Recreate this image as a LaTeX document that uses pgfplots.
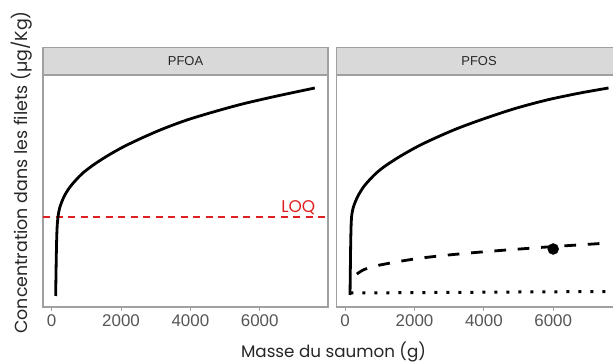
\documentclass[border=0pt]{standalone}
\usepackage{fontspec}
\setmainfont{Poppins}
\newfontfamily\arial{Liberation Sans}
\usepackage{pgfplots}
\pgfplotsset{compat=1.18}
\definecolor{loqred}{RGB}{224,32,32}
\definecolor{tickgray}{RGB}{85,85,85}
\definecolor{bordergray}{RGB}{160,160,160}
\definecolor{stripfill}{RGB}{217,217,217}
\pgfplotsset{
  panel/.style={
    scale only axis, anchor=south west,
    height=232bp, ymin=0, ymax=232, ytick=\empty,
    xmin=-250, xmax=7970, width=285bp,
    xtick={0,2000,4000,6000}, tick align=outside, tick pos=left,
    major tick length=4bp,
    tick style={bordergray, line width=1bp},
    axis line style={bordergray, line width=1.2bp},
    xticklabel style={font=\arial\fontsize{17}{17}\selectfont, text=tickgray},
    /pgf/number format/assume math mode=true,
    /pgf/number format/1000 sep={},
    every axis title/.style={at={(0.5,1)}, anchor=south, fill=stripfill, draw=bordergray,
      line width=1.2bp, minimum width=285bp, minimum height=27bp, inner sep=0pt,
      font=\arial\fontsize{13}{13}\selectfont, text=black!85},
    solidc/.style={black, line width=2.8bp, smooth},
  }
}
\begin{document}
\begin{tikzpicture}
\useasboundingbox (0,0) rectangle (613bp,363bp);
\clip (0,0) rectangle (613bp,363bp);
\begin{axis}[panel, at={(43bp,56bp)}, title={PFOA}]
\addplot[loqred, line width=1.5bp, dash pattern=on 7bp off 5.5bp] coordinates {(-250,90) (7970,90)};
\addplot[solidc] coordinates {
(115,11) (128,40) (140,62) (152,76) (165,84) (190,92) (230,99) (290,105) (380,112)
(528,120) (700,127) (900,134) (1200,142) (1600,151) (2060,160) (2600,169) (3200,178)
(3900,187) (4660,195) (5500,203) (6500,211) (7590,219)};
\node[anchor=base, text=loqred, font=\fontsize{17}{17}\selectfont] at (axis cs:7113,94.7) {LOQ};
\end{axis}
\begin{axis}[panel, at={(336.5bp,56bp)}, title={PFOS}]
\addplot[solidc] coordinates {
(140,12) (150,40) (160,65) (172,82) (190,92) (230,99) (290,105) (384,112) (528,120)
(700,127) (900,134) (1154,141) (1600,151) (2115,161) (2600,169) (3200,178) (3900,187)
(4855,198) (5817,207) (6778,214) (7595,219)};
\addplot[black, line width=2.8bp, smooth, dash pattern=on 11.7bp off 11.7bp] coordinates {
(337,33) (480,36.3) (650,38.8) (900,41.2) (1200,43.3) (1600,45.8) (2115,48.6) (2700,51)
(3400,53.4) (4200,55.8) (5000,57.9) (5817,60) (6700,62) (7595,64)};
\addplot[black, line width=3bp, dash pattern=on 3bp off 9bp] coordinates {
(150,14) (1500,14.3) (3000,14.6) (4500,14.9) (6000,15.2) (7595,15.5)};
\addplot[only marks, mark=*, mark size=5.5bp, black] coordinates {(6000,58)};
\end{axis}
\node[anchor=base, font=\fontsize{16.8}{16.8}\selectfont, text=black!85] at (333.5bp,6bp) {Masse du saumon (g)};
\node[anchor=base, rotate=90, font=\fontsize{17.5}{17.5}\selectfont, text=black!85] at (27bp,190.5bp) {Concentration dans les filets (µg/Kg)};
\end{tikzpicture}
\end{document}
